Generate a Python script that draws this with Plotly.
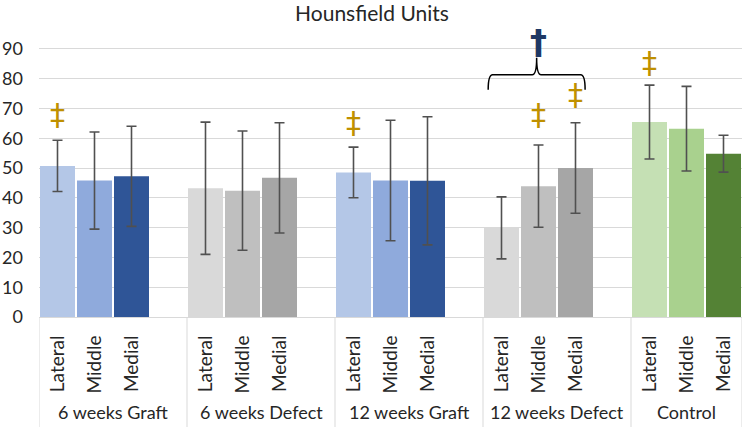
import plotly.graph_objects as go

groups = ["6 weeks Graft", "6 weeks Defect", "12 weeks Graft", "12 weeks Defect", "Control"]
sites = ["Lateral", "Middle", "Medial"]

lateral_vals = [50.7, 43.2, 48.5, 29.9, 65.4]
middle_vals = [45.8, 42.4, 45.8, 43.9, 63.2]
medial_vals = [47.2, 46.7, 45.7, 50.0, 54.8]

lateral_err = [8.6, 22.2, 8.5, 10.4, 12.4]
middle_err = [16.3, 20.0, 20.2, 13.8, 14.2]
medial_err = [16.8, 18.5, 21.5, 15.2, 6.2]

colors = [
    ["#B4C7E7", "#8FAADC", "#2F5597"],
    ["#D9D9D9", "#BFBFBF", "#A6A6A6"],
    ["#B4C7E7", "#8FAADC", "#2F5597"],
    ["#D9D9D9", "#BFBFBF", "#A6A6A6"],
    ["#C5E0B4", "#A9D18E", "#548235"],
]

# significance markers: (group index, site index, y)
dd_marks = [(0, 0, 68.1), (2, 0, 65.4), (3, 1, 67.8), (3, 2, 74.5), (4, 0, 85.3)]
dagger_mark = (3, 1, 92.3)

xs, ys, es, cs, tx = [], [], [], [], []
for g in range(len(groups)):
    vals = [lateral_vals[g], middle_vals[g], medial_vals[g]]
    errs = [lateral_err[g], middle_err[g], medial_err[g]]
    for j in range(3):
        xs.append(4 * g + j)
        ys.append(vals[j])
        es.append(errs[j])
        cs.append(colors[g][j])
        tx.append(sites[j])

FONT = "Lato"
TXT = "#262626"
fig = go.Figure()
fig.add_trace(go.Bar(
    x=xs, y=ys, width=0.946,
    marker=dict(color=cs, line=dict(width=0)),
    error_y=dict(type="data", array=es, visible=True, color="#505050", thickness=1.6, width=5),
    hoverinfo="skip",
))

# divider lines
for b in [-0.5, 3.5, 7.5, 11.5, 15.5, 18.5]:
    fig.add_shape(type="line", xref="x", yref="paper", x0=b, x1=b, y0=0, y1=-0.37,
                  line=dict(color="#D9D9D9", width=1))

annotations = []
for g, name in enumerate(groups):
    cx = 4 * g + (1.5 if g < len(groups) - 1 else 1)
    annotations.append(dict(x=cx, y=-0.319, xref="x", yref="paper", text=name,
                            showarrow=False, font=dict(family=FONT, size=18, color=TXT),
                            xanchor="center", yanchor="middle"))
for g, j, yv in dd_marks:
    annotations.append(dict(x=4 * g + j, y=yv, xref="x", yref="y", text="‡", showarrow=False,
                            font=dict(family="DejaVu Sans", size=30, color="#BF9000"),
                            xanchor="center", yanchor="middle"))
g, j, yv = dagger_mark
annotations.append(dict(x=4 * g + j, y=yv, xref="x", yref="y", text="<b>†</b>", showarrow=False,
                        font=dict(family="DejaVu Sans", size=34, color="#1F3864"),
                        xanchor="center", yanchor="middle"))

# brace over 12 weeks Defect
x0, x1, xm = 11.64, 14.26, 12.95
yb, yh, yt = 76.3, 81.3, 87.0
d = 0.12
path = (f"M {x0},{yb} Q {x0},{yh} {x0+d},{yh} L {xm-d},{yh} Q {xm},{yh} {xm},{yt} "
        f"Q {xm},{yh} {xm+d},{yh} L {x1-d},{yh} Q {x1},{yh} {x1},{yb}")
fig.add_shape(type="path", xref="x", yref="y", path=path, line=dict(color="#000000", width=1.5))

fig.update_layout(
    width=744, height=427,
    margin=dict(l=39, r=2, t=19, b=110),
    paper_bgcolor="white", plot_bgcolor="white",
    showlegend=False,
    title=dict(text="Hounsfield Units", x=0.5, xanchor="center", y=0.969, yanchor="middle",
               font=dict(family=FONT, size=21, color=TXT)),
    annotations=annotations,
    xaxis=dict(range=[-0.5, 18.5], tickvals=xs, ticktext=tx, tickangle=-90,
               tickfont=dict(family=FONT, size=19, color=TXT), showgrid=False,
               showline=True, linecolor="#D9D9D9", linewidth=1, ticks="", zeroline=False,
               ticklabelstandoff=10, fixedrange=True),
    yaxis=dict(range=[0, 100], tickvals=list(range(0, 100, 10)), showgrid=True,
               gridcolor="#D9D9D9", gridwidth=1.3, zeroline=False, showline=False,
               tickfont=dict(family=FONT, size=18, color=TXT), ticklabelstandoff=15,
               fixedrange=True),
)
fig.write_html("out.html")
